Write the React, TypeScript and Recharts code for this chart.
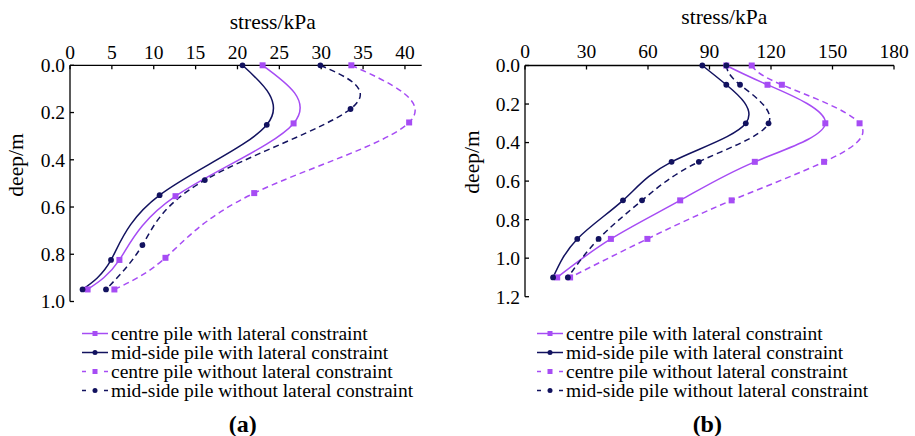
import { LineChart, Line, XAxis, YAxis } from "recharts";

const PURPLE = "#a64cf4";
const NAVY = "#12125f";
const FONT = "Liberation Serif";

// panel (a)
const aDeepCentreWith = [0, 0.246, 0.554, 0.824, 0.949];
const aStressCentreWith = [23.0, 26.7, 12.6, 5.9, 2.1];
const aDeepMidWith = [0, 0.252, 0.55, 0.824, 0.949];
const aStressMidWith = [20.6, 23.5, 10.7, 4.9, 1.5];
const aDeepCentreWithout = [0, 0.242, 0.541, 0.815, 0.949];
const aStressCentreWithout = [33.6, 40.5, 22.0, 11.4, 5.3];
const aDeepMidWithout = [0, 0.185, 0.486, 0.761, 0.949];
const aStressMidWithout = [29.9, 33.5, 16.1, 8.65, 4.3];
const aStressTicks = [0, 5, 10, 15, 20, 25, 30, 35, 40];
const aDeepTicks = [0, 0.2, 0.4, 0.6, 0.8, 1.0];

// panel (b)
const bDeep = [0, 0.1, 0.3, 0.5, 0.7, 0.9, 1.1];
const bStressCentreWith = [98.2, 118.3, 146.5, 112.1, 75.7, 41.9, 15.7];
const bStressMidWith = [86.5, 98.2, 107.7, 71.5, 47.8, 25.5, 13.7];
const bStressCentreWithout = [110.6, 125.3, 163.2, 145.9, 100.8, 59.7, 22.0];
const bStressMidWithout = [98.2, 104.9, 118.8, 84.8, 57.1, 35.9, 20.9];
const bStressTicks = [0, 30, 60, 90, 120, 150, 180];
const bDeepTicks = [0, 0.2, 0.4, 0.6, 0.8, 1.0, 1.2];

const seriesNames = [
  "centre pile with lateral constraint",
  "mid-side pile with lateral constraint",
  "centre pile without lateral constraint",
  "mid-side pile without lateral constraint",
];

const toRows = (deep: number[], stress: number[]) =>
  deep.map((d, i) => ({ deep: d, stress: stress[i] }));

const SquareDot = (props: any) => {
  const { cx, cy, index } = props;
  if (cx == null || cy == null) return <g key={index} />;
  return <rect key={index} x={cx - 3} y={cy - 3} width={6} height={6} fill={PURPLE} />;
};

const RoundDot = (props: any) => {
  const { cx, cy, index } = props;
  if (cx == null || cy == null) return <g key={index} />;
  return <circle key={index} cx={cx} cy={cy} r={2.9} fill={NAVY} />;
};

const tickStyle = { fill: "#000", fontSize: 19.5, fontFamily: FONT };
const axisLine = { stroke: "#000", strokeWidth: 1.3 };

// top axis labels sit on a fixed baseline
const topTick = (baseline: number) => (props: any) => (
  <text x={props.x} y={baseline} textAnchor="middle" fill="#000" fontSize={19.5} fontFamily={FONT}>
    {props.payload.value}
  </text>
);

function Panel(props: {
  left: number;
  margin: any;
  xDomain: number[];
  xTicks: number[];
  yDomain: number[];
  yTicks: number[];
  baseline: number;
  series: any[][];
}) {
  const { left, margin, xDomain, xTicks, yDomain, yTicks, baseline, series } = props;
  return (
    <div style={{ position: "absolute", left, top: 0 }}>
      <LineChart width={460} height={320} layout="vertical" margin={margin}>
        <XAxis
          type="number"
          dataKey="stress"
          orientation="top"
          height={40}
          domain={xDomain}
          ticks={xTicks}
          allowDecimals
          tick={topTick(baseline)}
          tickSize={-4}
          axisLine={axisLine}
          tickLine={axisLine}
        />
        <YAxis
          type="number"
          dataKey="deep"
          width={50}
          domain={yDomain}
          ticks={yTicks}
          tickFormatter={(v: number) => v.toFixed(1)}
          tick={tickStyle}
          tickSize={-4}
          tickMargin={9}
          axisLine={axisLine}
          tickLine={axisLine}
        />
        <Line data={series[0]} dataKey="stress" type="natural" stroke={PURPLE} strokeWidth={1.5} dot={SquareDot} isAnimationActive={false} />
        <Line data={series[1]} dataKey="stress" type="natural" stroke={NAVY} strokeWidth={1.5} dot={RoundDot} isAnimationActive={false} />
        <Line data={series[2]} dataKey="stress" type="natural" stroke={PURPLE} strokeWidth={1.5} strokeDasharray="6 4" dot={SquareDot} isAnimationActive={false} />
        <Line data={series[3]} dataKey="stress" type="natural" stroke={NAVY} strokeWidth={1.5} strokeDasharray="6 4" dot={RoundDot} isAnimationActive={false} />
      </LineChart>
    </div>
  );
}

function LegendBlock({ left, top }: { left: number; top: number }) {
  return (
    <div style={{ position: "absolute", left, top, fontFamily: FONT, fontSize: 19.5, color: "#000" }}>
      {seriesNames.map((name, i) => {
        const color = i % 2 === 0 ? PURPLE : NAVY;
        const dashed = i >= 2;
        return (
          <div key={name} style={{ display: "flex", alignItems: "center", height: 19, whiteSpace: "nowrap" }}>
            <svg width={26} height={19} style={{ marginRight: 3, flexShrink: 0 }}>
              {dashed ? (
                <g stroke={color} strokeWidth={1.5}>
                  <line x1={0} y1={9.5} x2={4} y2={9.5} />
                  <line x1={22} y1={9.5} x2={26} y2={9.5} />
                </g>
              ) : (
                <line x1={0} y1={9.5} x2={26} y2={9.5} stroke={color} strokeWidth={1.5} />
              )}
              {i % 2 === 0 ? (
                <rect x={10.5} y={7} width={5} height={5} fill={color} />
              ) : (
                <circle cx={13} cy={9.5} r={2.5} fill={color} />
              )}
            </svg>
            <span style={{ lineHeight: "19px" }}>{name}</span>
          </div>
        );
      })}
    </div>
  );
}

const AxisTitle = ({ x, y, text, rotate }: { x: number; y: number; text: string; rotate?: boolean }) => (
  <div
    style={{
      position: "absolute",
      left: x,
      top: y,
      transform: `translate(-50%, -50%)${rotate ? " rotate(-90deg)" : ""}`,
      fontFamily: FONT,
      fontSize: 21.5,
      whiteSpace: "nowrap",
      color: "#000",
    }}
  >
    {text}
  </div>
);

export default function App() {
  const aSeries = [
    toRows(aDeepCentreWith, aStressCentreWith),
    toRows(aDeepMidWith, aStressMidWith),
    toRows(aDeepCentreWithout, aStressCentreWithout),
    toRows(aDeepMidWithout, aStressMidWithout),
  ];
  const bSeries = [
    toRows(bDeep, bStressCentreWith),
    toRows(bDeep, bStressMidWith),
    toRows(bDeep, bStressCentreWithout),
    toRows(bDeep, bStressMidWithout),
  ];
  return (
    <div style={{ position: "absolute", left: 0, top: 0, width: 915, height: 436, background: "#fff", overflow: "hidden" }}>
      <Panel
        left={0}
        margin={{ top: 25.3, right: 38.3, bottom: 18.5, left: 20 }}
        xDomain={[0, 42]}
        xTicks={aStressTicks}
        yDomain={[0, 1]}
        yTicks={aDeepTicks}
        baseline={58.5}
        series={aSeries}
      />
      <Panel
        left={455}
        margin={{ top: 25.5, right: 21, bottom: 23.3, left: 20 }}
        xDomain={[0, 180]}
        xTicks={bStressTicks}
        yDomain={[0, 1.2]}
        yTicks={bDeepTicks}
        baseline={57.5}
        series={bSeries}
      />
      <AxisTitle x={272.7} y={22.3} text="stress/kPa" />
      <AxisTitle x={724.3} y={17.3} text="stress/kPa" />
      <AxisTitle x={15.5} y={165} text="deep/m" rotate />
      <AxisTitle x={471.5} y={161.7} text="deep/m" rotate />
      <LegendBlock left={82} top={324} />
      <LegendBlock left={537} top={324} />
      <div style={{ position: "absolute", left: 242.7, top: 424, transform: "translate(-50%, -50%)", fontFamily: FONT, fontWeight: "bold", fontSize: 24 }}>
        (a)
      </div>
      <div style={{ position: "absolute", left: 707.3, top: 424, transform: "translate(-50%, -50%)", fontFamily: FONT, fontWeight: "bold", fontSize: 24 }}>
        (b)
      </div>
    </div>
  );
}
